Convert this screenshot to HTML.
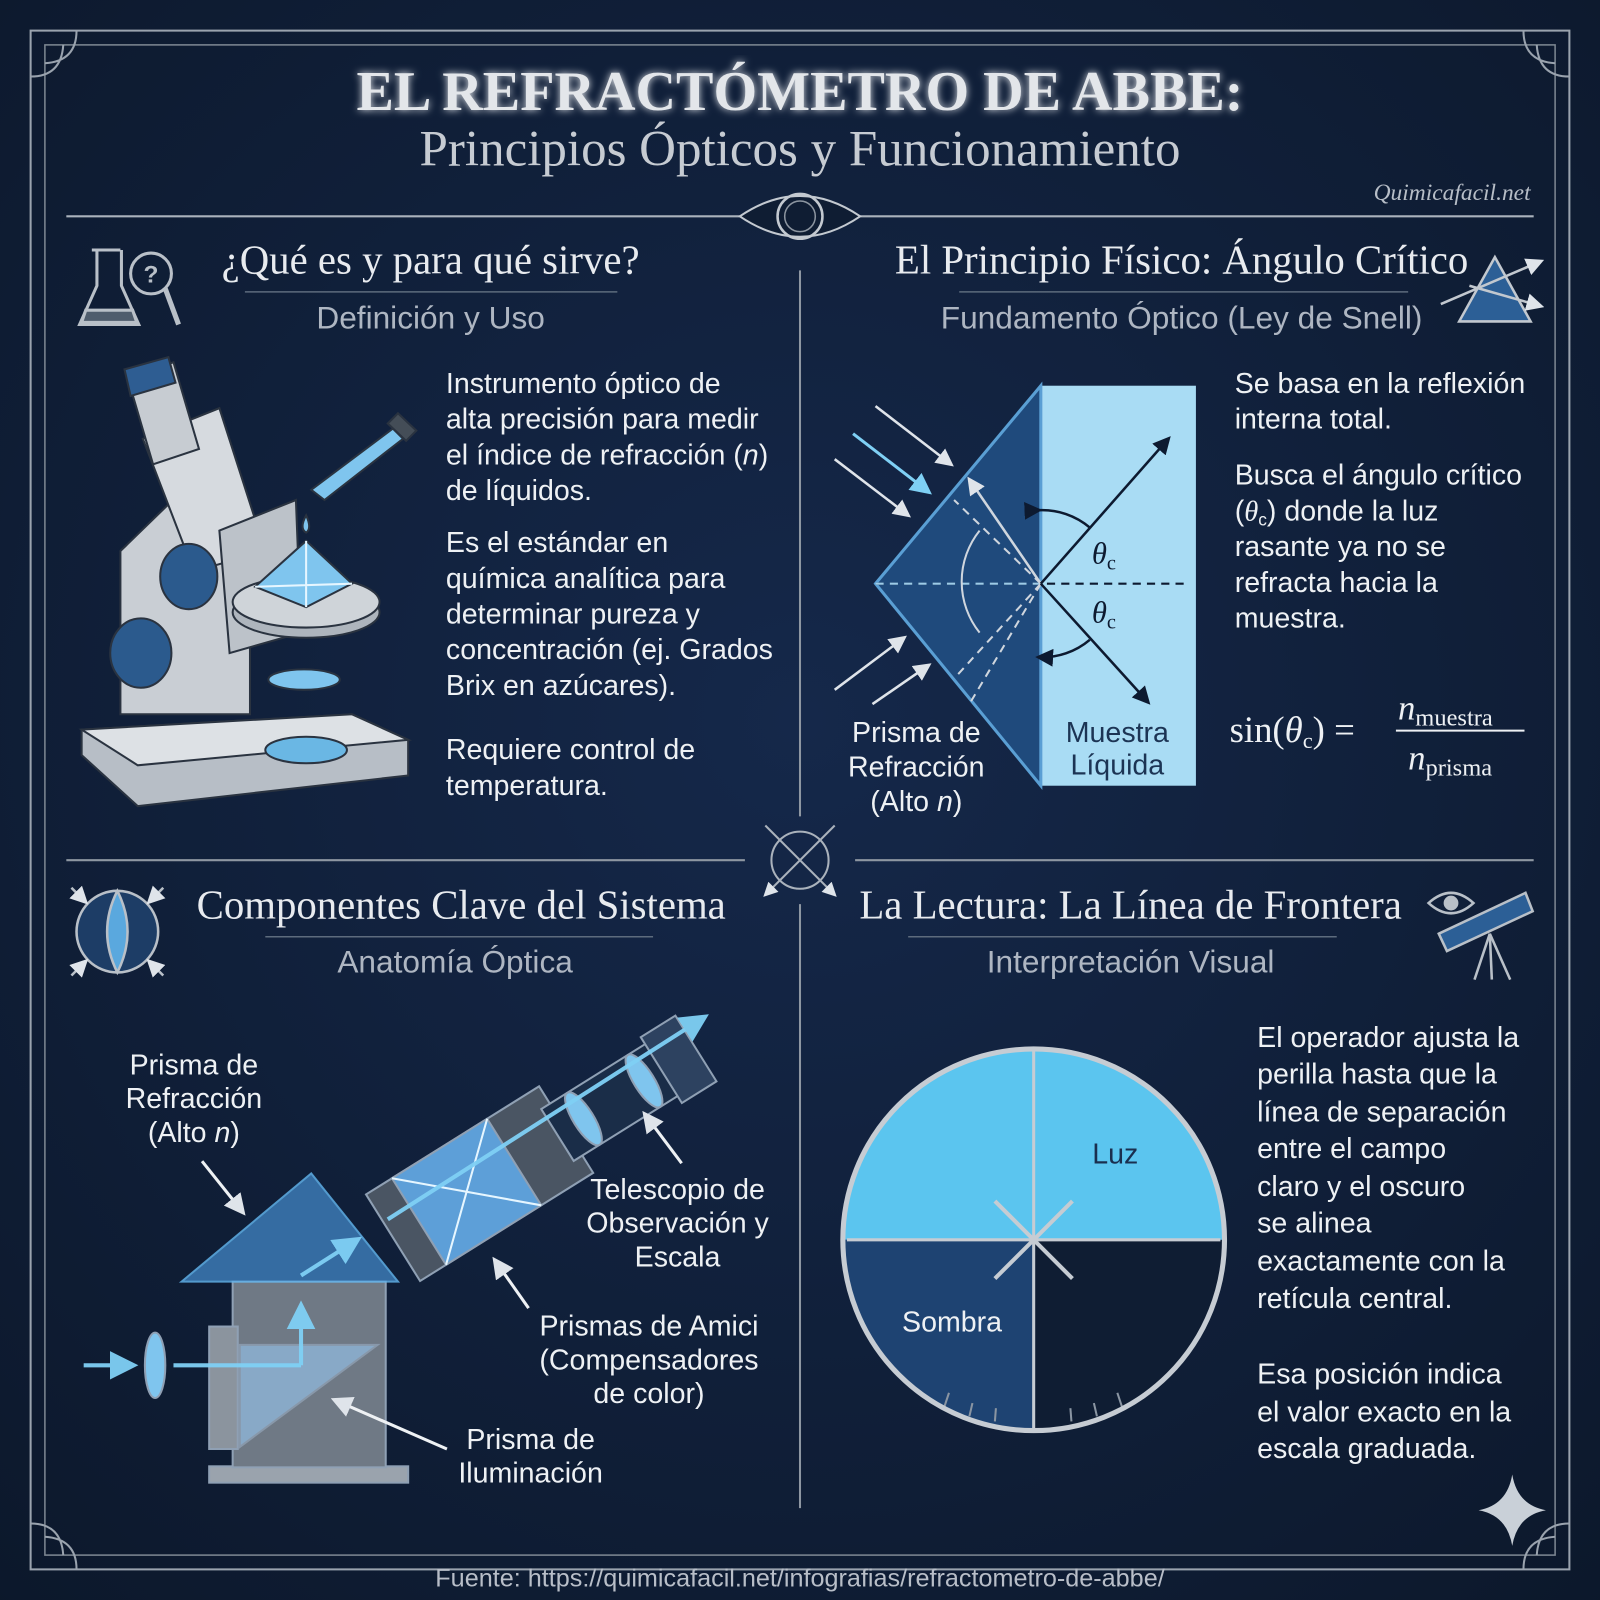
<!DOCTYPE html>
<html><head><meta charset="utf-8">
<style>
html,body{margin:0;padding:0;background:#0f1d33;}
svg{display:block}
.serif{font-family:"Liberation Serif",serif;}
.sans{font-family:"Liberation Sans",sans-serif;}
</style></head><body>
<svg width="1600" height="1600" viewBox="0 0 1568 1568" xmlns="http://www.w3.org/2000/svg">
<defs>
<radialGradient id="bg" cx="50%" cy="45%" r="75%"><stop offset="0" stop-color="#15284a"/><stop offset="1" stop-color="#0c182b"/></radialGradient>
<filter id="glow"><feGaussianBlur stdDeviation="4" result="b"/><feMerge><feMergeNode in="b"/><feMergeNode in="SourceGraphic"/></feMerge></filter>
<marker id="ar" viewBox="0 0 10 10" refX="8" refY="5" markerWidth="7" markerHeight="7" orient="auto"><path d="M0,0L10,5L0,10z" fill="#dfe4ea"/></marker>
<marker id="ab" viewBox="0 0 10 10" refX="8" refY="5" markerWidth="7" markerHeight="7" orient="auto"><path d="M0,0L10,5L0,10z" fill="#7fd0f5"/></marker>
<marker id="ak" viewBox="0 0 10 10" refX="8" refY="5" markerWidth="7" markerHeight="7" orient="auto"><path d="M0,0L10,5L0,10z" fill="#0d1a30"/></marker>
</defs>
<rect width="1568" height="1568" fill="url(#bg)"/>
<rect x="30" y="30" width="1508" height="1508" fill="none" stroke="#9aa3ae" stroke-width="2"/>
<rect x="44" y="44" width="1480" height="1480" fill="none" stroke="#7d8792" stroke-width="1.5"/>
<g fill="none" stroke="#9aa3ae" stroke-width="2">
<path d="M30,75 Q60,75 62,44 M75,30 Q75,60 44,62"/>
<path d="M1538,75 Q1508,75 1506,44 M1493,30 Q1493,60 1524,62"/>
<path d="M30,1493 Q60,1493 62,1524 M75,1538 Q75,1508 44,1506"/>
<path d="M1538,1493 Q1508,1493 1506,1524 M1493,1538 Q1493,1508 1524,1506"/>
</g>
<text x="784" y="108" text-anchor="middle" class="serif" font-size="55" font-weight="bold" fill="#e3e6ea" filter="url(#glow)">EL REFRACTÓMETRO DE ABBE:</text>
<text x="784" y="162" text-anchor="middle" class="serif" font-size="50" fill="#c6cbd2">Principios Ópticos y Funcionamiento</text>
<text x="1500" y="196" text-anchor="end" class="serif" font-size="23" font-style="italic" fill="#b7bec7">Quimicafacil.net</text>
<line x1="65" y1="212" x2="725" y2="212" stroke="#aab2bc" stroke-width="2"/>
<line x1="843" y1="212" x2="1503" y2="212" stroke="#aab2bc" stroke-width="2"/>
<path d="M725,212 Q784,172 843,212 Q784,252 725,212z" fill="#0f1d33" stroke="#c3c9d0" stroke-width="2"/>
<circle cx="784" cy="212" r="22" fill="none" stroke="#c3c9d0" stroke-width="2.5"/>
<circle cx="784" cy="212" r="15" fill="none" stroke="#8d96a1" stroke-width="1.5"/>
<line x1="784" y1="265" x2="784" y2="800" stroke="#8e97a2" stroke-width="2"/>
<line x1="784" y1="886" x2="784" y2="1478" stroke="#8e97a2" stroke-width="2"/>
<line x1="65" y1="843" x2="730" y2="843" stroke="#8e97a2" stroke-width="2"/>
<line x1="838" y1="843" x2="1503" y2="843" stroke="#8e97a2" stroke-width="2"/>
<circle cx="784" cy="843" r="28" fill="none" stroke="#aab2bc" stroke-width="2"/>
<g stroke="#aab2bc" stroke-width="2" fill="none"><line x1="750" y1="809" x2="818" y2="877" marker-end="url(#ar)"/><line x1="818" y1="809" x2="750" y2="877" marker-end="url(#ar)"/></g>

<g class="serif" fill="#e8ebef" font-size="40">
<text x="422" y="268" text-anchor="middle">¿Qué es y para qué sirve?</text>
<text x="1158" y="268" text-anchor="middle">El Principio Físico: Ángulo Crítico</text>
<text x="452" y="900" text-anchor="middle">Componentes Clave del Sistema</text>
<text x="1108" y="900" text-anchor="middle">La Lectura: La Línea de Frontera</text>
</g>
<g stroke="#5d6b7d" stroke-width="1.5">
<line x1="240" y1="286" x2="605" y2="286"/><line x1="940" y1="286" x2="1380" y2="286"/>
<line x1="260" y1="918" x2="640" y2="918"/><line x1="890" y1="918" x2="1310" y2="918"/>
</g>
<g class="sans" fill="#aeb6c2" font-size="31" text-anchor="middle">
<text x="422" y="322">Definición y Uso</text>
<text x="1158" y="322">Fundamento Óptico (Ley de Snell)</text>
<text x="446" y="953">Anatomía Óptica</text>
<text x="1108" y="953">Interpretación Visual</text>
</g>

<g fill="none" stroke="#b9c0c8" stroke-width="3">
<path d="M90,245 L118,245 M95,245 L95,280 L78,318 L136,318 L119,280 L119,245"/>
<path d="M84,304 L130,304 L134,316 L80,316z" fill="#4f5d6d"/>
<circle cx="148" cy="268" r="20"/><line x1="162" y1="283" x2="175" y2="318" stroke-width="5"/>
</g>
<text x="148" y="277" text-anchor="middle" class="sans" font-size="24" font-weight="bold" fill="#b9c0c8">?</text>
<g stroke="#2a3340" stroke-width="2">
<path d="M80,715 L345,700 L400,725 L400,760 L135,790 L80,740z" fill="#b7bec6"/>
<path d="M80,715 L345,700 L400,725 L135,750z" fill="#dde1e5"/>
<path d="M118,540 L190,470 L245,560 L245,700 L118,700z" fill="#c9ced4"/>
<path d="M140,430 L215,400 L260,540 L190,560z" fill="#d6dadf"/>
<path d="M125,370 L170,355 L195,440 L150,455z" fill="#c7ccd2"/>
<path d="M122,362 L165,350 L172,375 L128,388z" fill="#2e5d92"/>
<ellipse cx="185" cy="565" rx="28" ry="32" fill="#2b5a8d"/>
<ellipse cx="138" cy="640" rx="30" ry="34" fill="#2b5a8d"/>
<path d="M215,520 L290,490 L295,620 L225,640z" fill="#bcc2c9"/>
<ellipse cx="300" cy="600" rx="72" ry="25" fill="#aeb5bd"/>
<ellipse cx="300" cy="590" rx="72" ry="25" fill="#cfd4d9"/>
<path d="M250,575 L300,530 L345,572 L300,595z" fill="#7fc5ee"/>
<path d="M300,530 L300,595 M250,575 L345,572" stroke="#e6f6ff"/>
<ellipse cx="298" cy="666" rx="35" ry="10" fill="#7fc5ee"/>
<ellipse cx="300" cy="735" rx="40" ry="13" fill="#6ab7e4"/>
<path d="M305,480 L385,420 L395,430 L318,490z" fill="#7fc5ee"/>
<path d="M380,415 L398,432 L408,422 L390,405z" fill="#444d57"/>
<path d="M300,505 Q306,518 300,522 Q293,518 300,505z" fill="#7fc5ee"/>
</g>
<g class="sans" fill="#eef1f4" font-size="28">
<text x="437" y="385">Instrumento óptico de</text>
<text x="437" y="420">alta precisión para medir</text>
<text x="437" y="455">el índice de refracción (<tspan font-style="italic">n</tspan>)</text>
<text x="437" y="490">de líquidos.</text>
<text x="437" y="541">Es el estándar en</text>
<text x="437" y="576">química analítica para</text>
<text x="437" y="611">determinar pureza y</text>
<text x="437" y="646">concentración (ej. Grados</text>
<text x="437" y="681">Brix en azúcares).</text>
<text x="437" y="744">Requiere control de</text>
<text x="437" y="779">temperatura.</text>
</g>

<g stroke="#c2c8cf" stroke-width="2.5" fill="none">
<path d="M1465,252 L1430,315 L1500,315z" fill="#2c5f96"/>
<line x1="1412" y1="298" x2="1510" y2="256" marker-end="url(#ar)"/>
<line x1="1440" y1="280" x2="1510" y2="300" marker-end="url(#ar)"/>
</g>
<rect x="1020" y="378" width="152" height="392" fill="#a9dcf4"/>
<path d="M1020,378 L858,572 L1020,770z" fill="#1f4a7c" stroke="#5a9fd4" stroke-width="3"/>
<line x1="858" y1="572" x2="1160" y2="572" stroke="#0d1a30" stroke-width="2" stroke-dasharray="8,6"/>
<line x1="858" y1="572" x2="1020" y2="572" stroke="#9ccbe8" stroke-width="2" stroke-dasharray="8,6"/>
<g stroke="#cfd6de" stroke-width="2" stroke-dasharray="8,6" fill="none">
<line x1="1020" y1="572" x2="935" y2="490"/><line x1="1020" y1="572" x2="935" y2="665"/>
<line x1="1020" y1="572" x2="950" y2="690"/>
<path d="M960,520 A80,80 0 0 0 960,620" stroke-dasharray="none"/>
</g>
<line x1="1020" y1="572" x2="950" y2="470" stroke="#cfd6de" stroke-width="2.5" marker-end="url(#ar)"/>
<g stroke="#0d1a30" stroke-width="2.5" fill="none">
<line x1="1020" y1="572" x2="1145" y2="430" marker-end="url(#ak)"/>
<line x1="1020" y1="572" x2="1125" y2="688" marker-end="url(#ak)"/>
<path d="M1018,500 A72,72 0 0 1 1068,517" marker-start="url(#ak)"/>
<path d="M1068,627 A72,72 0 0 1 1018,644" marker-end="url(#ak)"/>
</g>
<g stroke="#dfe4ea" stroke-width="2.5">
<line x1="858" y1="398" x2="932" y2="455" marker-end="url(#ar)"/>
<line x1="818" y1="450" x2="890" y2="505" marker-end="url(#ar)"/>
<line x1="818" y1="676" x2="886" y2="625" marker-end="url(#ar)"/>
<line x1="855" y1="690" x2="910" y2="652" marker-end="url(#ar)"/>
</g>
<line x1="836" y1="425" x2="910" y2="482" stroke="#7fd0f5" stroke-width="3" marker-end="url(#ab)"/>
<g class="serif" font-style="italic" font-size="30" fill="#0d1a30">
<text x="1070" y="552">θ<tspan font-size="20" dy="6" font-style="normal">c</tspan></text>
<text x="1070" y="610">θ<tspan font-size="20" dy="6" font-style="normal">c</tspan></text>
</g>
<g class="sans" font-size="28" text-anchor="middle">
<text x="898" y="727" fill="#eef1f4">Prisma de</text>
<text x="898" y="761" fill="#eef1f4">Refracción</text>
<text x="898" y="795" fill="#eef1f4">(Alto <tspan font-style="italic">n</tspan>)</text>
<text x="1095" y="727" fill="#1c3454">Muestra</text>
<text x="1095" y="759" fill="#1c3454">Líquida</text>
</g>
<g class="sans" fill="#eef1f4" font-size="28">
<text x="1210" y="385">Se basa en la reflexión</text>
<text x="1210" y="420">interna total.</text>
<text x="1210" y="475">Busca el ángulo crítico</text>
<text x="1210" y="510">(<tspan class="serif" font-style="italic">θ</tspan><tspan font-size="17" dy="5">c</tspan><tspan dy="-5">) donde la luz</tspan></text>
<text x="1210" y="545">rasante ya no se</text>
<text x="1210" y="580">refracta hacia la</text>
<text x="1210" y="615">muestra.</text>
</g>
<g class="serif" fill="#eef1f4">
<text x="1205" y="727" font-size="36">sin(<tspan font-style="italic">θ</tspan><tspan font-size="22" dy="6">c</tspan><tspan dy="-6">) =</tspan></text>
<text x="1370" y="705" font-size="34" font-style="italic">n<tspan font-size="24" dy="6" font-style="normal">muestra</tspan></text>
<line x1="1368" y1="716" x2="1494" y2="716" stroke="#eef1f4" stroke-width="2"/>
<text x="1380" y="754" font-size="34" font-style="italic">n<tspan font-size="24" dy="6" font-style="normal">prisma</tspan></text>
</g>

<g stroke="#b9c0c8" stroke-width="2.5" fill="none">
<circle cx="115" cy="913" r="40" fill="#1d3d66"/>
<path d="M115,873 Q95,913 115,953 Q135,913 115,873z" fill="#5aa8de"/>
<line x1="70" y1="870" x2="84" y2="884" marker-end="url(#ar)"/><line x1="160" y1="870" x2="146" y2="884" marker-end="url(#ar)"/>
<line x1="70" y1="956" x2="84" y2="942" marker-end="url(#ar)"/><line x1="160" y1="956" x2="146" y2="942" marker-end="url(#ar)"/>
</g>
<g stroke="#8fa0b4" stroke-width="2">
<rect x="205" y="1437" width="195" height="16" fill="#9aa3ad"/>
<rect x="228" y="1256" width="150" height="182" fill="#6f7985"/>
<rect x="205" y="1300" width="28" height="120" fill="#8b949e"/>
<path d="M235,1318 L370,1318 L235,1418z" fill="#8fb5d8" opacity=".8"/>
<path d="M178,1256 L305,1150 L390,1256z" fill="#3c7ab5" opacity=".85" stroke="#5fb0e8"/>
<g transform="rotate(-32 470 1160)">
<rect x="370" y="1110" width="200" height="100" fill="#4a5563"/>
<rect x="560" y="1130" width="130" height="60" fill="#1a2d48"/>
<rect x="680" y="1122" width="40" height="76" fill="#2d4260"/>
<rect x="400" y="1110" width="110" height="100" fill="#5d9fd8"/>
<path d="M400,1110 L510,1210 M510,1110 L400,1210" stroke="#e6f6ff"/>
<ellipse cx="590" cy="1160" rx="10" ry="30" fill="#7fc5ee"/>
<ellipse cx="660" cy="1160" rx="10" ry="30" fill="#7fc5ee"/>
</g>
<ellipse cx="152" cy="1338" rx="10" ry="32" fill="#7fc5ee"/>
</g>
<g stroke="#7fd0f5" stroke-width="4" fill="none" opacity=".95">
<line x1="82" y1="1338" x2="130" y2="1338" marker-end="url(#ab)"/>
<line x1="170" y1="1338" x2="295" y2="1338"/>
<line x1="295" y1="1338" x2="295" y2="1280" marker-end="url(#ab)"/>
<line x1="295" y1="1250" x2="350" y2="1215" marker-end="url(#ab)"/>
<line x1="380" y1="1195" x2="690" y2="997" marker-end="url(#ab)"/>
</g>
<g stroke="#eef1f4" stroke-width="3">
<line x1="198" y1="1138" x2="238" y2="1188" marker-end="url(#ar)"/>
<line x1="668" y1="1140" x2="632" y2="1092" marker-end="url(#ar)"/>
<line x1="518" y1="1282" x2="485" y2="1235" marker-end="url(#ar)"/>
<line x1="438" y1="1420" x2="328" y2="1372" marker-end="url(#ar)"/>
</g>
<g class="sans" fill="#eef1f4" font-size="28" text-anchor="middle">
<text x="190" y="1053">Prisma de</text><text x="190" y="1086">Refracción</text><text x="190" y="1119">(Alto <tspan font-style="italic">n</tspan>)</text>
<text x="664" y="1175">Telescopio de</text><text x="664" y="1208">Observación y</text><text x="664" y="1241">Escala</text>
<text x="636" y="1309">Prismas de Amici</text><text x="636" y="1342">(Compensadores</text><text x="636" y="1375">de color)</text>
<text x="520" y="1420">Prisma de</text><text x="520" y="1453">Iluminación</text>
</g>

<g stroke="#b9c0c8" stroke-width="2.5" fill="none">
<path d="M1400,885 Q1422,865 1444,885 Q1422,905 1400,885z"/><circle cx="1422" cy="885" r="6" fill="#b9c0c8"/>
<path d="M1410,915 L1495,875 L1502,893 L1418,932z" fill="#2c5f96"/>
<line x1="1460" y1="915" x2="1445" y2="960"/><line x1="1460" y1="915" x2="1480" y2="960"/><line x1="1460" y1="915" x2="1462" y2="960"/>
</g>
<clipPath id="cc"><circle cx="1013" cy="1215" r="185"/></clipPath>
<g clip-path="url(#cc)">
<rect x="820" y="1025" width="380" height="380" fill="#0f1d33"/>
<rect x="820" y="1025" width="380" height="190" fill="#5bc5ef"/>
<rect x="820" y="1215" width="193" height="190" fill="#1e4372"/>
</g>
<line x1="1013" y1="1030" x2="1013" y2="1400" stroke="#c6ccd3" stroke-width="3"/>
<line x1="830" y1="1215" x2="1196" y2="1215" stroke="#c6ccd3" stroke-width="3"/>
<g stroke="#c6ccd3" stroke-width="4"><line x1="975" y1="1177" x2="1051" y2="1253"/><line x1="1051" y1="1177" x2="975" y2="1253"/></g>
<g stroke="#8a95a2" stroke-width="2">
<line x1="925" y1="1380" x2="930" y2="1365"/><line x1="950" y1="1388" x2="953" y2="1375"/><line x1="975" y1="1393" x2="976" y2="1380"/>
<line x1="1050" y1="1393" x2="1049" y2="1380"/><line x1="1075" y1="1388" x2="1072" y2="1375"/><line x1="1100" y1="1380" x2="1095" y2="1365"/>
</g>
<circle cx="1013" cy="1215" r="187" fill="none" stroke="#c6ccd3" stroke-width="5"/>
<text x="1093" y="1140" text-anchor="middle" class="sans" font-size="28" fill="#1a2f4f">Luz</text>
<text x="933" y="1305" text-anchor="middle" class="sans" font-size="28" fill="#eef1f4">Sombra</text>
<g class="sans" fill="#eef1f4" font-size="28">
<text x="1232" y="1026">El operador ajusta la</text>
<text x="1232" y="1062">perilla hasta que la</text>
<text x="1232" y="1099">línea de separación</text>
<text x="1232" y="1135">entre el campo</text>
<text x="1232" y="1172">claro y el oscuro</text>
<text x="1232" y="1208">se alinea</text>
<text x="1232" y="1245">exactamente con la</text>
<text x="1232" y="1282">retícula central.</text>
<text x="1232" y="1356">Esa posición indica</text>
<text x="1232" y="1393">el valor exacto en la</text>
<text x="1232" y="1429">escala graduada.</text>
</g>
<path d="M1482,1445 Q1487,1475 1515,1480 Q1487,1485 1482,1515 Q1477,1485 1449,1480 Q1477,1475 1482,1445z" fill="#c9d0d8"/>
<text x="784" y="1555" text-anchor="middle" class="sans" font-size="24.7" fill="#b8bec8">Fuente: https://quimicafacil.net/infografias/refractometro-de-abbe/</text>
</svg>
</body></html>
